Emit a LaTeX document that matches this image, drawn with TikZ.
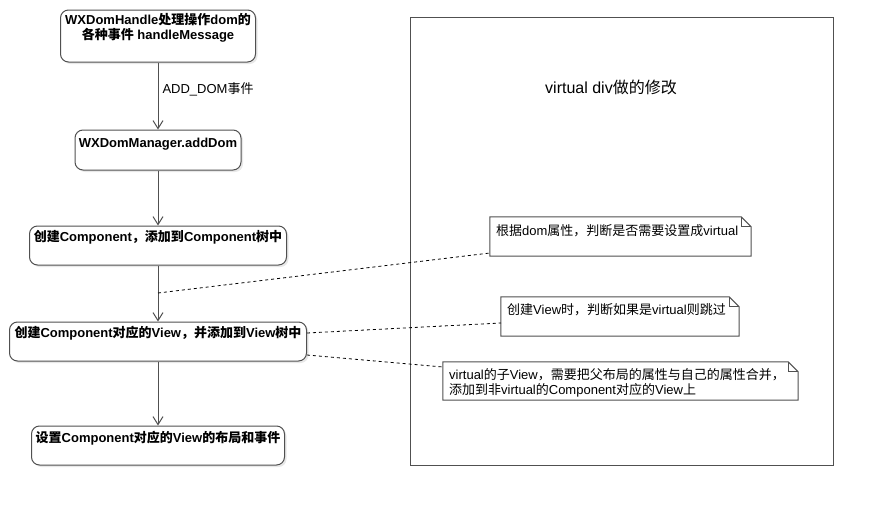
\documentclass[tikz,border=0pt]{standalone}
\usepackage{fontspec}
\setmainfont{Liberation Sans}
\newfontfamily\latinfont{Liberation Sans}
\newfontfamily\cjkfont{Noto Sans CJK SC}
\usetikzlibrary{arrows.meta,shadows}
\XeTeXinterchartokenstate=1
\count255="3000
\loop\XeTeXcharclass\count255=7 \ifnum\count255<"303F \advance\count255 1 \repeat
\count255="4E00
\loop\XeTeXcharclass\count255=7 \ifnum\count255<"9FFF \advance\count255 1 \repeat
\count255="FF00
\loop\XeTeXcharclass\count255=7 \ifnum\count255<"FFEF \advance\count255 1 \repeat
\XeTeXinterchartoks 0 7 = {\cjkfont}
\XeTeXinterchartoks 4095 7 = {\cjkfont}
\XeTeXinterchartoks 7 0 = {\latinfont}
\XeTeXinterchartoks 7 4095 = {\latinfont}
\definecolor{ln}{RGB}{80,80,80}
\begin{document}
\begin{tikzpicture}[x=1pt,y=-1pt,
  box/.style={draw=ln, line width=1pt, rounded corners=8pt, fill=white, inner sep=0pt,
    drop shadow={shadow xshift=2pt,shadow yshift=-2pt,fill=black!18}},
  boxtext/.style={inner sep=0pt, align=center, font=\fontsize{13}{15}\selectfont\bfseries},
  notetext/.style={inner sep=0pt, align=left, font=\fontsize{13}{15}\selectfont},
  notebox/.style={inner sep=0pt},
  arr/.style={draw=ln, line width=1pt, -{Straight Barb[length=8pt,width=10pt,line width=1pt]}},
  dline/.style={draw=black, line width=0.8pt, dash pattern=on 3pt off 3pt},
  outl/.style={draw=ln, line width=1pt}]
\useasboundingbox (0,0) rectangle (873,506);
% frame
\node[outl, inner sep=0pt, minimum width=423pt, minimum height=448pt] (frame) at (621.5,241) {};
\node[inner sep=0pt, font=\fontsize{16}{18}\selectfont] (title) at (611,87) {virtual div做的修改};
% boxes
\node[box, minimum width=195pt, minimum height=52pt] (b1) at (158,36) {};
\node[boxtext] (t1) at (158,28) {WXDomHandle处理操作dom的\\各种事件 handleMessage};
\node[box, minimum width=166pt, minimum height=40pt] (b2) at (158,150) {};
\node[boxtext] (t2) at (158,144) {WXDomManager.addDom};
\node[box, minimum width=257pt, minimum height=39pt] (b3) at (158,245.5) {};
\node[boxtext] (t3) at (158,237) {创建Component，添加到Component树中};
\node[box, minimum width=297pt, minimum height=39pt] (b4) at (158,341.5) {};
\node[boxtext] (t4) at (158,333) {创建Component对应的View，并添加到View树中};
\node[box, minimum width=253pt, minimum height=39pt] (b5) at (158,445.5) {};
\node[boxtext] (t5) at (158,438) {设置Component对应的View的布局和事件};
% arrows
\draw[arr] (b1) -- node[pos=0.4, right=4pt, inner sep=0pt, font=\fontsize{13}{15}\selectfont] (lab) {ADD\_DOM事件} (b2);
\draw[arr] (b2) -- (b3);
\draw[arr] (b3) -- (b4);
\draw[arr] (b4) -- (b5);
% notes
\node[notebox, minimum width=261pt, minimum height=39pt] (n1) at (620.5,236.5) {};
\node[notebox, minimum width=238pt, minimum height=39pt] (n2) at (620,316.5) {};
\node[notebox, minimum width=355pt, minimum height=38pt] (n3) at (620.5,381) {};
\foreach \n in {n1,n2,n3}{
  \draw[outl, fill=white] (\n.south west) -- (\n.north west) -- ([xshift=-10pt]\n.north east)
    -- ([yshift=-10pt]\n.north east) -- (\n.south east) -- cycle;
  \draw[outl] ([xshift=-10pt]\n.north east) -- ([xshift=-10pt,yshift=-10pt]\n.north east)
    -- ([yshift=-10pt]\n.north east);
}
\node[notetext, anchor=west] (nt1) at (496,231) {根据dom属性，判断是否需要设置成virtual};
\node[notetext, anchor=west] (nt2) at (507,310) {创建View时，判断如果是virtual则跳过};
\node[notetext, anchor=west] (nt3) at (449,382.5) {virtual的子View，需要把父布局的属性与自己的属性合并，\\添加到非virtual的Component对应的View上};
% dashed connectors
\coordinate (d1) at (158,293);
\coordinate (e1) at (490,253);
\coordinate (s2) at (307,333);
\coordinate (e2) at (501,323);
\coordinate (s3) at (307,355);
\coordinate (e3) at (443,367);
\draw[dline] (d1) -- (e1);
\draw[dline] (s2) -- (e2);
\draw[dline] (s3) -- (e3);
\end{tikzpicture}
\end{document}
